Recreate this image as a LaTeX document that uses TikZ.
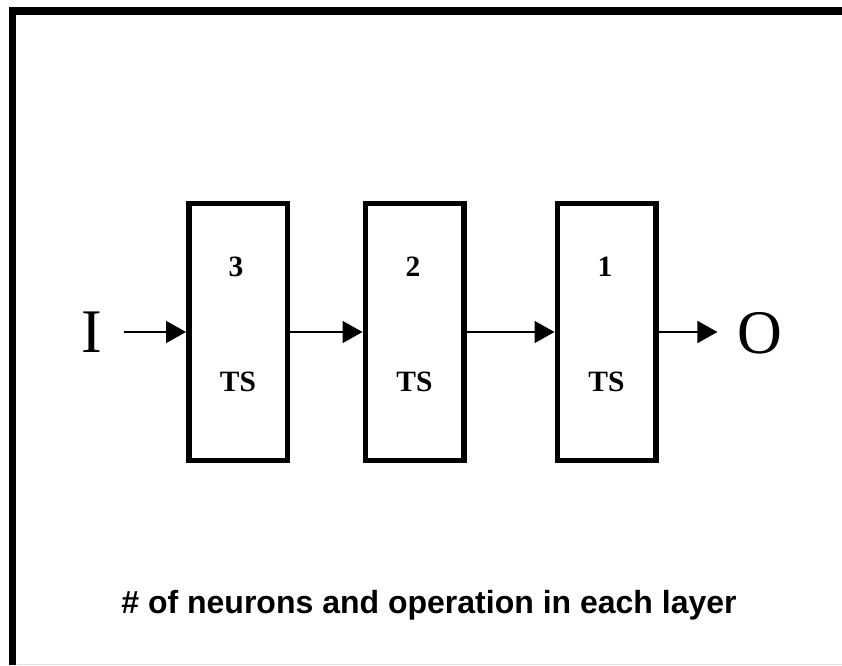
\documentclass[tikz,border=0pt]{standalone}
\usepackage{fontspec}
\setmainfont{Liberation Serif}
\newfontfamily\arialfont{Liberation Sans}
\usetikzlibrary{arrows.meta}
\begin{document}
\begin{tikzpicture}[x=1pt,y=1pt,
  layerbox/.style={draw=black,line width=5.5pt,minimum width=98.5pt,minimum height=256.5pt,inner sep=0pt},
  numlbl/.style={font=\fontsize{29.5}{34}\selectfont\bfseries,inner sep=0pt},
  iolbl/.style={font=\fontsize{62}{70}\selectfont,inner sep=0pt},
  arr/.style={line width=1.6pt,-{Triangle[length=20pt,width=22pt]}}]
\useasboundingbox (0,0) rectangle (842,665);
% frame
\draw[line width=7.7pt,line join=miter,line cap=butt] (12.5,0) -- (12.5,653.7) -- (842,653.7);
\draw[line width=1pt,black!12] (16.5,1) -- (842,1);
% boxes
\node[layerbox] (b1) at (238,333) {};
\node[layerbox] (b2) at (414.5,333) {};
\node[layerbox] (b3) at (606.5,333) {};
\node[numlbl] (n1) at (236,398) {3};
\node[numlbl] (t1) at (238,283) {TS};
\node[numlbl] (n2) at (413,398) {2};
\node[numlbl] (t2) at (414.5,283) {TS};
\node[numlbl] (n3) at (605,398) {1};
\node[numlbl] (t3) at (606.5,283) {TS};
% I/O
\node[iolbl] (I) at (92,333) {I};
\node[iolbl] (O) at (760,332) {O};
\draw[arr,shorten <=21pt] (I.east) -- (b1.west);
\draw[arr] (b1.east) -- (b2.west);
\draw[arr] (b2.east) -- (b3.west);
\draw[arr,shorten >=20pt] (b3.east) -- (O.west |- b3.east);
% caption
\node[anchor=base,font=\arialfont\bfseries\fontsize{32}{38}\selectfont,inner sep=0pt] (cap) at (429,52) {\# of neurons and operation in each layer};
\end{tikzpicture}
\end{document}
